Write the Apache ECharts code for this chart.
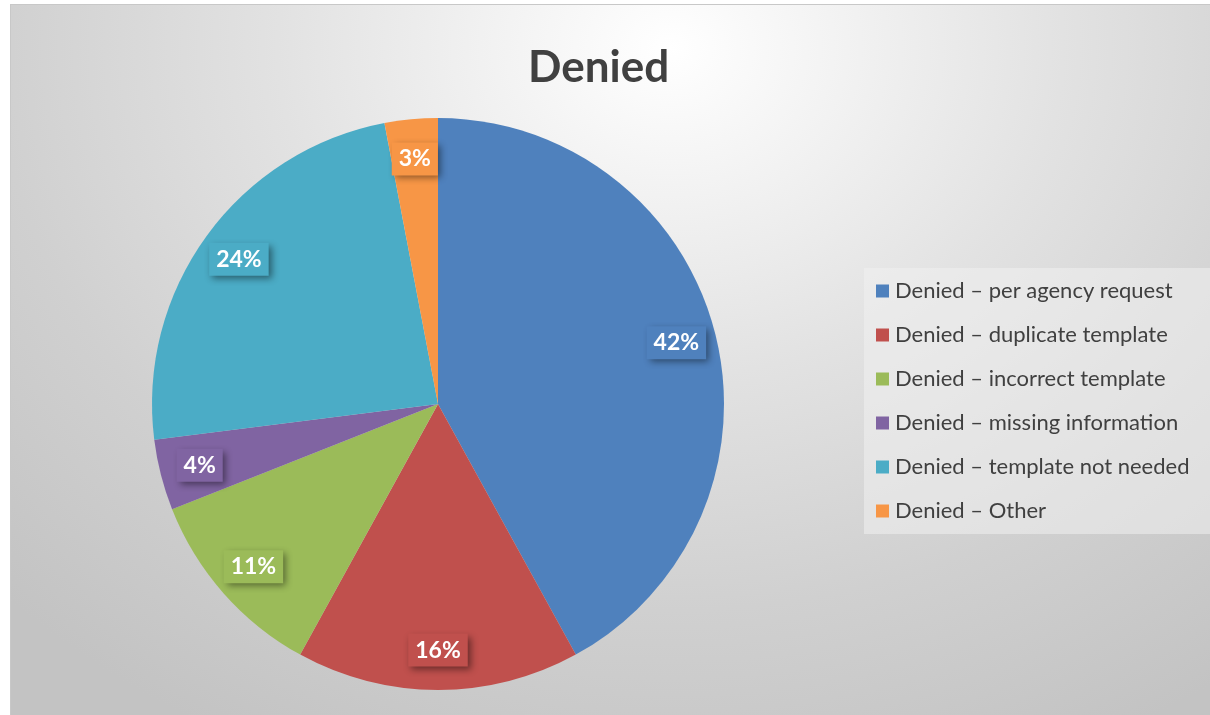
<!DOCTYPE html>
<html>
<head>
<meta charset="utf-8">
<script src="https://cdn.jsdelivr.net/npm/echarts@6/dist/echarts.min.js"></script>
<style>
  html, body { margin: 0; padding: 0; background: #ffffff; }
  #main {
    position: absolute;
    left: 10px;
    top: 4px;
    width: 1200px;
    height: 711px;
    border-top: 1px solid #c8c8c8;
    border-left: 1px solid #c8c8c8;
    box-sizing: border-box;
    background: radial-gradient(ellipse 78% 110% at 55% 6%, #ffffff 0%, #f4f4f4 16%, #e2e2e2 42%, #d0d0d0 72%, #c3c3c3 100%);
  }
</style>
</head>
<body>
<div id="main"></div>
<script>
  // 数据
  var categories = [
    'Denied – per agency request',
    'Denied – duplicate template',
    'Denied – incorrect template',
    'Denied – missing information',
    'Denied – template not needed',
    'Denied – Other'
  ];
  var values = [42, 16, 11, 4, 24, 3];
  var colors = ['#4f81bd', '#c0504d', '#9bbb59', '#8064a2', '#4bacc6', '#f79646'];

  var chart = echarts.init(document.getElementById('main'));

  var FONT = 'Lato';
  var cx = 427, cy = 399, R = 286;

  // 饼图数据
  var pieData = values.map(function (v, i) {
    return { value: v, name: categories[i], itemStyle: { color: colors[i] } };
  });

  // 标签层（透明圆环，只用来放百分比标签）
  var labelData = values.map(function (v, i) {
    return {
      value: v,
      name: categories[i],
      itemStyle: { color: 'rgba(0,0,0,0)' },
      label: { backgroundColor: colors[i] }
    };
  });

  var option = {
    animation: false,
    title: {
      text: 'Denied',
      left: 512,
      top: 36,
      textStyle: {
        fontFamily: FONT,
        fontSize: 44,
        fontWeight: 'bold',
        color: '#404040'
      }
    },
    legend: {
      orient: 'vertical',
      left: 853,
      top: 263,
      padding: [12, 40, 12, 12],
      backgroundColor: 'rgba(240,240,240,0.55)',
      itemWidth: 13,
      itemHeight: 13,
      itemGap: 22,
      icon: 'rect',
      data: categories,
      textStyle: {
        fontFamily: FONT,
        fontSize: 22,
        color: '#404040',
        padding: [0, 0, 0, 1]
      }
    },
    series: [
      {
        type: 'pie',
        center: [cx, cy],
        radius: [0, R],
        startAngle: 90,
        clockwise: true,
        silent: true,
        label: { show: false },
        labelLine: { show: false },
        data: pieData
      },
      {
        type: 'pie',
        center: [cx, cy],
        radius: [R * 0.7, R],
        startAngle: 90,
        clockwise: true,
        silent: true,
        z: 3,
        label: {
          show: true,
          position: 'inside',
          formatter: '{d}%',
          fontFamily: FONT,
          fontSize: 23,
          fontWeight: 'bold',
          color: '#ffffff',
          padding: [6, 7, 4, 7],
          shadowColor: 'rgba(0,0,0,0.45)',
          shadowBlur: 7,
          shadowOffsetX: 3,
          shadowOffsetY: 3
        },
        labelLine: { show: false },
        data: labelData
      }
    ]
  };

  chart.setOption(option);

  window.addEventListener('resize', function () {
    chart.resize();
  });
</script>
</body>
</html>
